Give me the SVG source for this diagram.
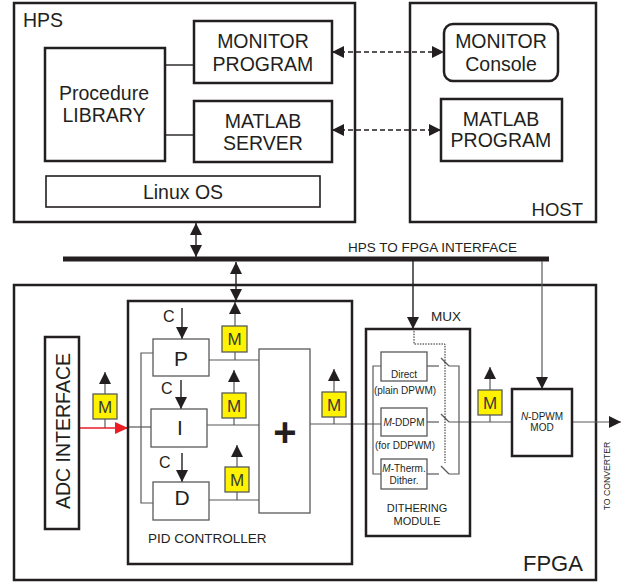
<svg xmlns="http://www.w3.org/2000/svg" width="635" height="585" viewBox="0 0 635 585">
<defs>
<marker id="ah" markerUnits="userSpaceOnUse" markerWidth="13" markerHeight="12" refX="12" refY="6" orient="auto-start-reverse" viewBox="0 0 13 12">
<path d="M0,0 L12,6 L0,12 z" fill="#231f20"/>
</marker>
<marker id="ahr" markerUnits="userSpaceOnUse" markerWidth="14" markerHeight="12" refX="13" refY="6" orient="auto" viewBox="0 0 14 12">
<path d="M0,0 L13,6 L0,12 z" fill="#ed1c24"/>
</marker>
</defs>
<style>
text{font-family:"Liberation Sans",Arial,sans-serif;fill:#231f20}
.big{font-size:19.5px}
.mid{font-size:13.5px}
.sm{font-size:10px}
.c{text-anchor:middle}
.box{fill:#fff;stroke:#231f20;stroke-width:2.5}
.tbox{fill:#fff;stroke:#231f20;stroke-width:1.6}
.gbox{fill:#fff;stroke:#58595b;stroke-width:1.3}
.mbox{fill:#fff200;stroke:#58595b;stroke-width:1.3}
.mt{font-size:17px;text-anchor:middle;fill:#3a3a3a}
.ln{fill:none;stroke:#231f20;stroke-width:1.4}
.gl{fill:none;stroke:#58595b;stroke-width:1.2}
.dash{fill:none;stroke:#231f20;stroke-width:1.4;stroke-dasharray:5,3}
.dot{fill:none;stroke:#231f20;stroke-width:1;stroke-dasharray:1.5,1.2}
.arr{marker-end:url(#ah)}
.arr2{marker-start:url(#ah);marker-end:url(#ah)}
</style>
<rect width="635" height="585" fill="#fff"/>

<g id="hps">
<rect class="box" x="14" y="3" width="341" height="219"/>
<text class="big" x="23" y="27">HPS</text>
</g>
<g id="host">
<rect class="box" x="410" y="3" width="186" height="219"/>
<text class="big" x="583" y="216" style="text-anchor:end;font-size:18.5px">HOST</text>
</g>
<g id="fpga">
<rect class="box" x="14" y="285" width="582" height="295"/>
<text x="523" y="571" style="font-size:22px">FPGA</text>
</g>

<g id="connectors">
<line class="ln" x1="165" y1="65" x2="194" y2="65"/>
<line class="ln" x1="165" y1="135" x2="194" y2="135"/>
<line class="dash arr2" x1="332" y1="52" x2="444" y2="52"/>
<line class="dash arr2" x1="332" y1="130" x2="441" y2="130"/>
<line x1="63" y1="259" x2="549" y2="259" stroke="#231f20" stroke-width="5"/>
<line class="ln arr2" x1="196" y1="223" x2="196" y2="257"/>
<line class="ln arr2" x1="236" y1="262" x2="236" y2="301"/>
<line class="ln arr" x1="413" y1="261" x2="413" y2="329"/>
<line class="gl arr" x1="542" y1="261" x2="542" y2="389"/>
<!-- ADC to PID -->
<line x1="80" y1="428" x2="128" y2="428" stroke="#ed1c24" stroke-width="1.3" marker-end="url(#ahr)"/>
<line class="gl" x1="105" y1="419" x2="105" y2="428"/>
<line class="gl arr" x1="105" y1="394" x2="105" y2="372"/>
<line class="gl" x1="128" y1="427" x2="151" y2="427"/>
<polyline class="gl" points="153,353 141,353 141,503 153,503"/>
<!-- C arrows -->
<line class="ln arr" x1="182" y1="308" x2="182" y2="339"/>
<line class="ln arr" x1="181" y1="380" x2="181" y2="409"/>
<line class="ln arr" x1="182" y1="453" x2="182" y2="482"/>
<!-- PID outputs -->
<line class="gl" x1="209" y1="360" x2="259" y2="360"/>
<line class="gl" x1="235" y1="352" x2="235" y2="360"/>
<line class="gl arr" x1="235" y1="326" x2="235" y2="302"/>
<line class="gl" x1="207" y1="425" x2="259" y2="425"/>
<line class="gl" x1="234" y1="418" x2="234" y2="425"/>
<line class="gl arr" x1="234" y1="393" x2="234" y2="370"/>
<line class="gl" x1="209" y1="500" x2="259" y2="500"/>
<line class="gl" x1="237" y1="492" x2="237" y2="500"/>
<line class="gl arr" x1="237" y1="467" x2="237" y2="445"/>
<!-- + to MUX -->
<line class="gl" x1="310" y1="424" x2="381" y2="424"/>
<line class="gl" x1="334" y1="417" x2="334" y2="424"/>
<line class="gl arr" x1="334" y1="392" x2="334" y2="369"/>
<!-- MUX internals -->
<polyline class="gl" points="381,366 373,366 373,474 381,474"/>
<line class="gl" x1="427" y1="366" x2="439" y2="366"/>
<line class="gl" x1="441" y1="358" x2="449" y2="366"/>
<polyline class="gl" points="449,366 459,366 459,474 449,474"/>
<line class="gl" x1="427" y1="422" x2="439" y2="422"/>
<line class="gl" x1="441" y1="414" x2="449" y2="422"/>
<line class="gl" x1="449" y1="422" x2="512" y2="422"/>
<line class="gl" x1="427" y1="474" x2="439" y2="474"/>
<line class="gl" x1="441" y1="466" x2="449" y2="474"/>
<polyline class="dot" points="414,331 414,344 445,344 445,463"/>
<!-- to N-DPWM -->
<line class="gl" x1="490" y1="415" x2="490" y2="422"/>
<line class="gl arr" x1="490" y1="390" x2="490" y2="367"/>
<line class="gl arr" x1="572" y1="422" x2="621" y2="422"/>
</g>

<g id="monitor-program">
<rect class="box" x="194" y="21" width="138" height="62"/>
<text class="big c" x="263" y="48">MONITOR</text>
<text class="big c" x="263" y="71">PROGRAM</text>
</g>
<g id="procedure-library">
<rect class="box" x="45" y="48" width="120" height="113"/>
<text class="big c" x="104" y="100">Procedure</text>
<text class="big c" x="104" y="122">LIBRARY</text>
</g>
<g id="matlab-server">
<rect class="box" x="194" y="101" width="138" height="61"/>
<text class="big c" x="263" y="128">MATLAB</text>
<text class="big c" x="263" y="150">SERVER</text>
</g>
<g id="linux-os">
<rect class="tbox" x="46" y="176" width="274" height="31"/>
<text class="big c" x="183" y="199">Linux OS</text>
</g>
<g id="monitor-console">
<rect class="box" x="444" y="24" width="114" height="57" rx="9"/>
<text class="big c" x="501" y="48">MONITOR</text>
<text class="big c" x="501" y="71">Console</text>
</g>
<g id="matlab-program">
<rect class="box" x="441" y="99" width="121" height="62"/>
<text class="big c" x="501" y="126">MATLAB</text>
<text class="big c" x="501" y="147">PROGRAM</text>
</g>

<g id="bus-label">
<text class="mid" x="348" y="252">HPS TO FPGA INTERFACE</text>
</g>

<g id="adc-interface">
<rect class="box" x="45" y="337" width="34" height="192"/>
<text class="big c" transform="translate(70,431) rotate(-90)">ADC INTERFACE</text>
</g>

<g id="pid-controller">
<rect class="box" x="128" y="301" width="224" height="263" fill="none" style="fill:none"/>
<text class="mid" x="148" y="543">PID CONTROLLER</text>
</g>
<g id="p">
<rect class="gbox" x="153" y="339" width="56" height="37"/>
<text class="c" x="181" y="366" style="font-size:21px">P</text>
<text x="163" y="322" style="font-size:16px">C</text>
</g>
<g id="i">
<rect class="gbox" x="151" y="409" width="56" height="38"/>
<text class="c" x="180" y="435" style="font-size:21px">I</text>
<text x="161" y="394" style="font-size:16px">C</text>
</g>
<g id="d">
<rect class="gbox" x="153" y="482" width="56" height="38"/>
<text class="c" x="182" y="505" style="font-size:21px">D</text>
<text x="159" y="468" style="font-size:16px">C</text>
</g>
<g id="sum">
<rect class="gbox" x="259" y="349" width="51" height="164"/>
<text class="c" x="285" y="446" style="font-size:40px;font-weight:bold">+</text>
</g>

<g id="m-adc"><rect class="mbox" x="93" y="394" width="24" height="25"/><text class="mt" x="105" y="413">M</text></g>
<g id="m-p"><rect class="mbox" x="222" y="326" width="25" height="26"/><text class="mt" x="234.5" y="345">M</text></g>
<g id="m-i"><rect class="mbox" x="222" y="393" width="24" height="25"/><text class="mt" x="234" y="412">M</text></g>
<g id="m-d"><rect class="mbox" x="225" y="467" width="24" height="25"/><text class="mt" x="237" y="486">M</text></g>
<g id="m-sum"><rect class="mbox" x="322" y="392" width="24" height="25"/><text class="mt" x="334" y="411">M</text></g>
<g id="m-mux"><rect class="mbox" x="478" y="390" width="24" height="25"/><text class="mt" x="490" y="409">M</text></g>

<g id="dithering-module">
<rect class="box" x="366" y="329" width="104" height="207" style="fill:none"/>
<text class="mid" x="431" y="321">MUX</text>
<text class="c" x="417" y="512" style="font-size:11px">DITHERING</text>
<text class="c" x="417" y="525" style="font-size:11px">MODULE</text>
</g>
<g id="direct">
<rect class="gbox" x="381" y="352" width="46" height="29"/>
<text class="sm c" x="404" y="378">Direct</text>
<text class="sm c" x="405" y="394">(plain DPWM)</text>
</g>
<g id="m-ddpm">
<rect class="gbox" x="381" y="408" width="46" height="28"/>
<text class="sm c" x="404" y="426"><tspan font-style="italic">M</tspan>-DDPM</text>
<text class="sm c" x="405" y="449">(for DDPWM)</text>
</g>
<g id="m-therm">
<rect class="gbox" x="381" y="459" width="46" height="30"/>
<text class="sm c" x="404" y="472"><tspan font-style="italic">M</tspan>-Therm.</text>
<text class="sm c" x="404" y="484">Dither.</text>
</g>

<g id="n-dpwm-mod">
<rect class="box" x="512" y="389" width="60" height="67"/>
<text class="sm c" x="542" y="420"><tspan font-style="italic">N</tspan>-DPWM</text>
<text class="sm c" x="542" y="431">MOD</text>
</g>
<g id="to-converter">
<text class="c" transform="translate(610,476) rotate(-90)" style="font-size:8.7px">TO CONVERTER</text>
</g>
</svg>
